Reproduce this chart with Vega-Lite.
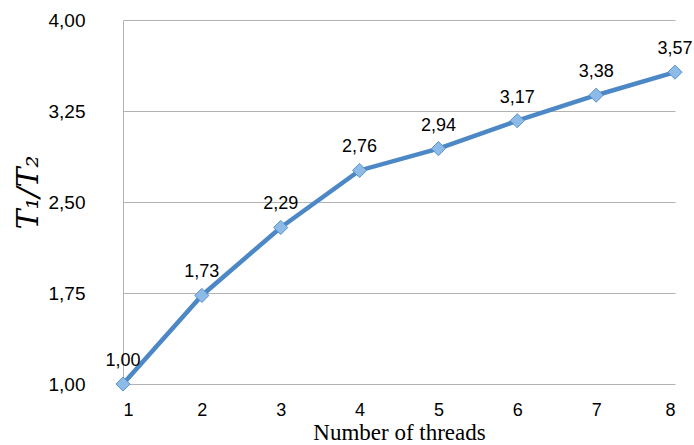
{
  "$schema": "https://vega.github.io/schema/vega-lite/v6.json",
  "description": "Speedup T1/T2 by number of threads",
  "width": 552,
  "height": 364,
  "autosize": "none",
  "padding": {"left": 123, "top": 20, "right": 19, "bottom": 61},
  "background": "white",
  "data": {
    "values": [
      {"threads": 1, "speedup": 1.00},
      {"threads": 2, "speedup": 1.73},
      {"threads": 3, "speedup": 2.29},
      {"threads": 4, "speedup": 2.76},
      {"threads": 5, "speedup": 2.94},
      {"threads": 6, "speedup": 3.17},
      {"threads": 7, "speedup": 3.38},
      {"threads": 8, "speedup": 3.57}
    ]
  },
  "encoding": {
    "x": {
      "field": "threads",
      "type": "quantitative",
      "scale": {"domain": [1, 8], "nice": false, "zero": false},
      "axis": {
        "values": [1, 2, 3, 4, 5, 6, 7, 8],
        "format": "d",
        "grid": false,
        "domain": false,
        "ticks": false,
        "labelPadding": 17,
        "labelFont": "Liberation Sans",
        "labelFontSize": 18,
        "labelColor": "#000000",
        "title": "Number of threads",
        "titleFont": "Liberation Serif",
        "titleFontSize": 23,
        "titleFontWeight": "normal",
        "titleColor": "#000000",
        "titleBaseline": "alphabetic",
        "titleY": 55
      }
    },
    "y": {
      "field": "speedup",
      "type": "quantitative",
      "scale": {"domain": [1, 4], "nice": false, "zero": false},
      "axis": {
        "values": [1, 1.75, 2.5, 3.25, 4],
        "format": ".2f",
        "grid": true,
        "gridColor": "#b3b3b3",
        "gridWidth": 1,
        "domain": true,
        "domainColor": "#b3b3b3",
        "ticks": false,
        "labelPadding": 38,
        "labelFont": "Liberation Sans",
        "labelFontSize": 19,
        "labelColor": "#000000",
        "title": "T₁/T₂",
        "titleFont": "DejaVu Serif",
        "titleFontStyle": "italic",
        "titleFontWeight": "normal",
        "titleFontSize": 30,
        "titleColor": "#000000",
        "titleAngle": -90,
        "titleAlign": "center",
        "titleBaseline": "middle",
        "titleX": -95,
        "titleY": 172
      }
    }
  },
  "layer": [
    {
      "mark": {"type": "line", "color": "#4d88c6", "strokeWidth": 4.5},
      "encoding": {}
    },
    {
      "mark": {
        "type": "point",
        "shape": "diamond",
        "filled": true,
        "size": 200,
        "color": "#8dbbe8",
        "stroke": "#5b92cc",
        "strokeWidth": 1,
        "opacity": 1
      },
      "encoding": {}
    },
    {
      "mark": {
        "type": "text",
        "dy": -23,
        "font": "Liberation Sans",
        "fontSize": 18,
        "color": "#000000"
      },
      "encoding": {
        "text": {"field": "speedup", "type": "quantitative", "format": ".2f"}
      }
    }
  ],
  "config": {
    "view": {"stroke": null},
    "locale": {
      "number": {
        "decimal": ",",
        "thousands": ".",
        "grouping": [3],
        "currency": ["", " €"]
      }
    }
  }
}
